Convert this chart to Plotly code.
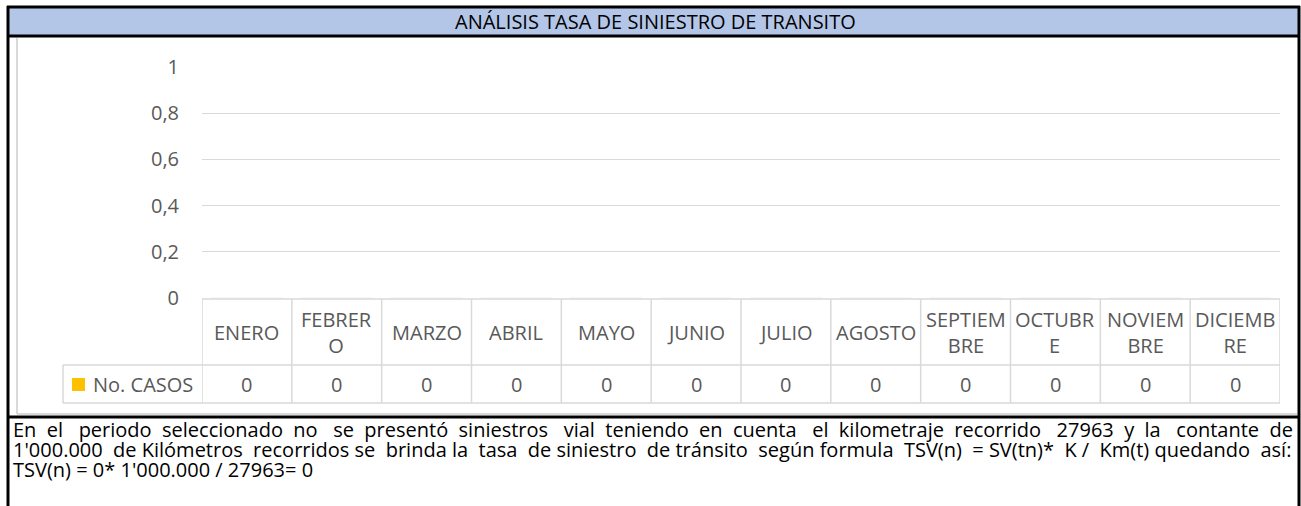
import plotly.graph_objects as go

W, H = 1301, 506

titulo = "ANÁLISIS TASA DE SINIESTRO DE TRANSITO"
meses = ["ENERO", "FEBRERO", "MARZO", "ABRIL", "MAYO", "JUNIO",
         "JULIO", "AGOSTO", "SEPTIEMBRE", "OCTUBRE", "NOVIEMBRE", "DICIEMBRE"]
etiquetas_meses = ["ENERO", "FEBRER<br>O", "MARZO", "ABRIL", "MAYO", "JUNIO",
                   "JULIO", "AGOSTO", "SEPTIEM<br>BRE", "OCTUBR<br>E", "NOVIEM<br>BRE", "DICIEMB<br>RE"]
serie_nombre = "No. CASOS"
casos = [0, 0, 0, 0, 0, 0, 0, 0, 0, 0, 0, 0]
y_ticks = [0, 0.2, 0.4, 0.6, 0.8, 1]
parrafo = [
    "En el periodo seleccionado no se presentó siniestros vial teniendo en cuenta el kilometraje recorrido 27963 y la contante de",
    "1'000.000 de Kilómetros recorridos se brinda la tasa de siniestro de tránsito según formula TSV(n) = SV(tn)* K / Km(t) quedando así:",
    "TSV(n) = 0* 1'000.000 / 27963= 0",
]
# extra spaces to spread each line over the full width (justified text)
extra_espacios = [25, 12, 0]

GRIS = "#d9d9d9"
TXT = "#595959"
FONT = "Open Sans"
FS = 20


def xp(px):
    return px / W


def yp(py):
    return 1 - py / H


def justificar(linea, extra):
    palabras = linea.split(" ")
    huecos = len(palabras) - 1
    if extra == 0 or huecos == 0:
        return linea
    out = palabras[0]
    for g in range(huecos):
        n = round((g + 1) * extra / huecos) - round(g * extra / huecos)
        out += " " + "\u00a0" * n + palabras[g + 1]
    return out


fig = go.Figure()
fig.add_trace(go.Bar(name=serie_nombre, x=meses, y=casos,
                     marker=dict(color="#FFC000"), showlegend=False))

pad = 0.003  # so the gridlines at 0 and 1 are still drawn
unit = (298 - 67)
fig.update_layout(
    width=W, height=H,
    margin=dict(l=0, r=0, t=0, b=0, autoexpand=False),
    paper_bgcolor="white", plot_bgcolor="white",
    separators=",.",
    xaxis=dict(domain=[xp(202), xp(1280)], range=[-0.5, 11.5], automargin=False,
               showticklabels=False, showgrid=False, zeroline=False),
    yaxis=dict(domain=[yp(298 + pad * unit), yp(67 - pad * unit)], range=[-pad, 1 + pad],
               automargin=False,
               tickvals=y_ticks, tickformat="~g",
               tickfont=dict(family=FONT, size=FS, color=TXT),
               ticklabelstandoff=22,
               gridcolor=GRIS, gridwidth=1, zeroline=False, showline=False),
)

shapes = []
# title band and frame
shapes.append(dict(type="rect", xref="paper", yref="paper",
                   x0=xp(8), x1=xp(1299), y0=yp(36), y1=yp(7),
                   fillcolor="#B4C6E7", line=dict(width=0), layer="below"))
for y in (7, 36, 417):
    shapes.append(dict(type="line", xref="paper", yref="paper",
                       x0=xp(7), x1=xp(1300), y0=yp(y), y1=yp(y),
                       line=dict(color="black", width=3)))
for x in (8, 1299):
    shapes.append(dict(type="line", xref="paper", yref="paper",
                       x0=xp(x), x1=xp(x), y0=yp(6), y1=yp(506),
                       line=dict(color="black", width=3)))
# chart area inner border
shapes.append(dict(type="line", xref="paper", yref="paper",
                   x0=xp(17), x1=xp(17), y0=yp(38), y1=yp(414),
                   line=dict(color=GRIS, width=2)))
shapes.append(dict(type="line", xref="paper", yref="paper",
                   x0=xp(17), x1=xp(1297), y0=yp(414), y1=yp(414),
                   line=dict(color=GRIS, width=2)))

# data table
for y, x0 in ((299, 202), (365, 63), (403, 63)):
    shapes.append(dict(type="line", xref="paper", yref="paper",
                       x0=xp(x0), x1=xp(1280), y0=yp(y), y1=yp(y),
                       line=dict(color=GRIS, width=1.5)))
for i in range(len(meses) + 1):
    shapes.append(dict(type="line", xref="x", yref="paper",
                       x0=i - 0.5, x1=i - 0.5, y0=yp(299), y1=yp(403),
                       line=dict(color=GRIS, width=1.5)))
shapes.append(dict(type="line", xref="paper", yref="paper",
                   x0=xp(63), x1=xp(63), y0=yp(365), y1=yp(403),
                   line=dict(color=GRIS, width=1.5)))
# legend key
shapes.append(dict(type="rect", xref="paper", yref="paper",
                   x0=xp(72), x1=xp(85), y0=yp(391), y1=yp(378),
                   fillcolor="#FFC000", line=dict(width=0)))

ann = []


def texto(t, x, y, xref="paper", xanchor="center", size=FS, color=TXT):
    ann.append(dict(text=t, xref=xref, yref="paper", x=x, y=y,
                    xanchor=xanchor, yanchor="middle", showarrow=False,
                    font=dict(family=FONT, size=size, color=color)))


texto(titulo, xp(655), yp(22), size=20, color="black")
for i, lab in enumerate(etiquetas_meses):
    texto(lab, i, yp(332), xref="x")
for i, v in enumerate(casos):
    texto(str(v), i, yp(384), xref="x")
texto(serie_nombre, xp(91), yp(384), xanchor="left")
for k, linea in enumerate(parrafo):
    texto(justificar(linea, extra_espacios[k]), xp(11), yp(429 + 20 * k),
          xanchor="left", size=20, color="black")

fig.update_layout(shapes=shapes, annotations=ann)

# pin the graph to the top-left corner of the page
ajuste = """
document.documentElement.style.margin='0';
document.documentElement.style.overflow='hidden';
document.body.style.margin='0';
document.body.style.overflow='hidden';
var gd = document.getElementById('{plot_id}');
gd.style.position='fixed'; gd.style.top='0px'; gd.style.left='0px';
"""
fig.write_html("out.html", config={"displayModeBar": False}, post_script=ajuste)
